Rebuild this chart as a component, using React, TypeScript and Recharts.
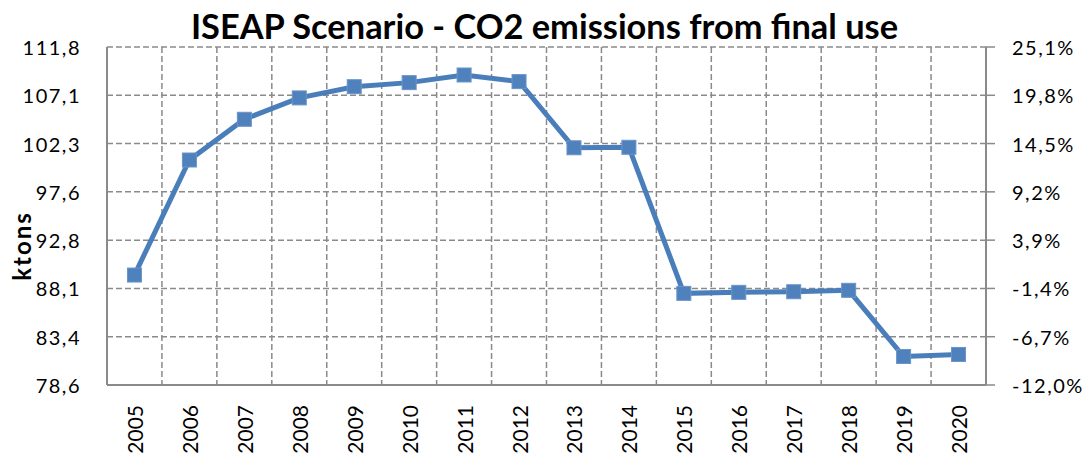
import { LineChart, Line, XAxis, YAxis, CartesianGrid } from "recharts"

// ISEAP scenario, CO2 emissions from final use (ktons)
const years = ["2005", "2006", "2007", "2008", "2009", "2010", "2011", "2012", "2013", "2014", "2015", "2016", "2017", "2018", "2019", "2020"]
const emissions = [89.4, 100.7, 104.7, 106.8, 107.9, 108.3, 109.05, 108.4, 101.9, 101.95, 87.6, 87.7, 87.76, 87.9, 81.4, 81.6]
const leftTickLabels = ["78,6", "83,4", "88,1", "92,8", "97,6", "102,3", "107,1", "111,8"]
const rightTickLabels = ["-12,0%", "-6,7%", "-1,4%", "3,9%", "9,2%", "14,5%", "19,8%", "25,1%"]

const LEFT_MIN = 78.6
const LEFT_MAX = 111.8
const RIGHT_MIN = -12.0
const RIGHT_MAX = 25.1

// right axis is the change against 2005
const data = years.map((year, i) => ({ year, value: emissions[i], change: (emissions[i] / emissions[0] - 1) * 100 }))
const leftTicks = leftTickLabels.map((_, i) => LEFT_MIN + (i * (LEFT_MAX - LEFT_MIN)) / (leftTickLabels.length - 1))
const rightTicks = rightTickLabels.map((_, i) => RIGHT_MIN + (i * (RIGHT_MAX - RIGHT_MIN)) / (rightTickLabels.length - 1))

const FONT = "Lato, 'Open Sans', sans-serif"
const GRID = "#8a8a8a"
const BLUE = "#4a7ebb"

const YearTick = ({ x, y, payload }: any) => (
    <text
        x={x}
        y={y + 12}
        transform={`rotate(-90, ${x}, ${y + 12})`}
        textAnchor="end"
        dominantBaseline="central"
        fontSize={21}
        fontFamily={FONT}
        fill="#000"
    >
        {payload.value}
    </text>
)

const LeftTick = ({ x, y, index }: any) => (
    <text x={x} y={y} textAnchor="end" dominantBaseline="central" fontSize={20} letterSpacing={1.5} fontFamily={FONT} fill="#000">
        {leftTickLabels[index]}
    </text>
)

const RightTick = ({ x, y, index }: any) => (
    <text x={x} y={y} textAnchor="start" dominantBaseline="central" fontSize={20} letterSpacing={1.5} fontFamily={FONT} fill="#000">
        {rightTickLabels[index]}
    </text>
)

const SquareDot = ({ cx, cy, index }: any) => (
    <rect key={index} x={cx - 7} y={cy - 7} width={14} height={14} fill="#4f81bd" stroke="#6a94c8" strokeWidth={1} />
)

export default function App() {
    return (
        <div style={{ position: "absolute", left: 0, top: 0, width: 1085, height: 455, background: "#fff", fontFamily: FONT }}>
            <div style={{ position: "absolute", left: 2, top: 6, width: 1085, textAlign: "center", fontSize: 34.4, fontWeight: 700, lineHeight: "40px", color: "#000" }}>
                ISEAP Scenario - CO2 emissions from final use
            </div>
            <div style={{ position: "absolute", left: 21, top: 246, transform: "translate(-50%, -50%) rotate(-90deg)", fontSize: 24, fontWeight: 700, letterSpacing: 2, whiteSpace: "nowrap" }}>
                ktons
            </div>
            <LineChart width={1085} height={455} data={data} margin={{ top: 47, right: 0, bottom: 0, left: 0 }}>
                <CartesianGrid
                    yAxisId="left"
                    stroke={GRID}
                    strokeWidth={1.5}
                    strokeDasharray="6 3"
                    verticalCoordinatesGenerator={({ offset }: any) =>
                        years.slice(1).map((_, i) => offset.left + ((i + 1) * offset.width) / years.length)
                    }
                />
                <XAxis
                    dataKey="year"
                    height={70}
                    padding={{ left: 879 / years.length / 2, right: 879 / years.length / 2 }}
                    tickLine={false}
                    axisLine={{ stroke: GRID, strokeWidth: 2 }}
                    tick={<YearTick />}
                    interval={0}
                />
                <YAxis
                    yAxisId="left"
                    orientation="left"
                    width={107}
                    domain={[LEFT_MIN, LEFT_MAX]}
                    ticks={leftTicks}
                    interval={0}
                    tickSize={0}
                    tickMargin={26}
                    tickLine={false}
                    axisLine={{ stroke: GRID, strokeWidth: 2 }}
                    tick={<LeftTick />}
                />
                <YAxis
                    yAxisId="right"
                    orientation="right"
                    width={99}
                    domain={[RIGHT_MIN, RIGHT_MAX]}
                    allowDataOverflow
                    ticks={rightTicks}
                    interval={0}
                    tickSize={9}
                    tickMargin={17}
                    tickLine={{ stroke: GRID, strokeWidth: 1.5 }}
                    axisLine={{ stroke: GRID, strokeWidth: 2 }}
                    tick={<RightTick />}
                />
                <Line
                    yAxisId="right"
                    dataKey="change"
                    stroke="none"
                    dot={false}
                    activeDot={false}
                    isAnimationActive={false}
                />
                <Line
                    yAxisId="left"
                    dataKey="value"
                    stroke={BLUE}
                    strokeWidth={5}
                    dot={<SquareDot />}
                    activeDot={false}
                    isAnimationActive={false}
                />
            </LineChart>
        </div>
    )
}
